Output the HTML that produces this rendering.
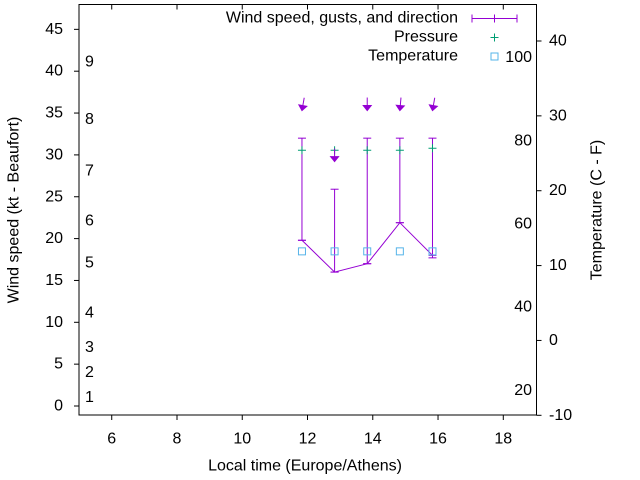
<!DOCTYPE html>
<html><head><meta charset="utf-8"><style>
body{margin:0;background:#fff}
svg{display:block;font-family:"Liberation Sans",Arial,sans-serif;font-size:16px}
</style></head><body>
<svg id="chart" width="640" height="480" viewBox="0 0 640 480"></svg>
<script>
const times=[11.83,12.83,13.83,14.83,15.83];
const speeds=[19.8,16.0,17.0,21.9,18.0];
const gustLows=[19.8,16.0,17.0,21.9,17.7];
const gusts=[32.0,25.9,32.0,32.0,32.0];
const pressures=[30.55,30.55,30.55,30.55,30.8];
const temps=[11.9,11.9,11.9,11.9,11.9];
const arrowY=[35.3,29.2,35.3,35.3,35.3];
const arrowDeg=[10,0,0,5,10];
const xTicks=[6,8,10,12,14,16,18];
const yTicks=[0,5,10,15,20,25,30,35,40,45];
const cTicks=[-10,0,10,20,30,40];
const fTicks=[20,40,60,80,100];
const bftLabels=[1,2,3,4,5,6,7,8,9];
const bftKt=[1,4,7,11.1,17.1,22.1,28.1,34.2,41.1];

const L=79,R=536.5,T=4.5,B=415;
const X=t=>79.1+(t-5)*32.63;
const Y=v=>406-v*8.37;
const YC=c=>415.3-(c+10)*7.486;
const YF=f=>YC((f-32)*5/9);
const svg=document.getElementById('chart');
const NS='http://www.w3.org/2000/svg';
function mk(tag,attrs,parent){const e=document.createElementNS(NS,tag);for(const k in attrs)e.setAttribute(k,attrs[k]);(parent||svg).appendChild(e);return e;}
function txt(s,x,y,anchor,parent){const e=mk('text',{x:x,y:y,'text-anchor':anchor||'start','dominant-baseline':'central',fill:'#000'},parent);e.textContent=s;return e;}

const axes=mk('g',{});


const frame=mk('rect',{x:L,y:T,width:R-L,height:B-T,fill:'none',stroke:'#000','stroke-width':1},axes);


xTicks.forEach(t=>{
  const x=X(t);
  mk('line',{x1:x,y1:B,x2:x,y2:B+5,stroke:'#000'},axes);
  mk('line',{x1:x,y1:T,x2:x,y2:T+5,stroke:'#000'},axes);
  const l=txt(String(t),x,439,'middle',axes);
  
  
});
yTicks.forEach(v=>{
  const y=Y(v);
  mk('line',{x1:L-5,y1:y,x2:L,y2:y,stroke:'#000'},axes);
  const l=txt(String(v),63,y,'end',axes);
  
  
});
cTicks.forEach(v=>{
  const y=YC(v);
  mk('line',{x1:R,y1:y,x2:R+5,y2:y,stroke:'#000'},axes);
  const l=txt(String(v),549,y,'start',axes);
  
  
});
fTicks.forEach(v=>{
  const l=txt(String(v),532,YF(v),'end',axes);
  
  
});
bftLabels.forEach((b,i)=>{
  const l=txt(String(b),85,Y(bftKt[i]),'start',axes);
  
  
});
let t1=txt('Local time (Europe/Athens)',305,466,'middle');


let t2=txt('Wind speed (kt - Beaufort)',0,0,'middle');
t2.setAttribute('transform','translate(14,210) rotate(-90)');


let t3=txt('Temperature (C - F)',0,0,'middle');
t3.setAttribute('transform','translate(597,210) rotate(-90)');



const P='#9400d3',G='#009e73',Bl='#56b4e9';
const pts=times.map((t,i)=>X(t)+','+Y(speeds[i])).join(' ');
const line=mk('polyline',{points:pts,fill:'none',stroke:P,'stroke-width':1});


times.forEach((t,i)=>{
  const x=X(t);
  const g=mk('g',{});
  
  
  mk('line',{x1:x,y1:Y(gustLows[i]),x2:x,y2:Y(gusts[i]),stroke:P},g);
  mk('line',{x1:x-4,y1:Y(gusts[i]),x2:x+4,y2:Y(gusts[i]),stroke:P},g);
  mk('line',{x1:x-4,y1:Y(gustLows[i]),x2:x+4,y2:Y(gustLows[i]),stroke:P},g);
  mk('line',{x1:x-4,y1:Y(speeds[i]),x2:x+4,y2:Y(speeds[i]),stroke:P},g);
  const p=mk('path',{d:`M${x-4},${Y(pressures[i])}h8M${x},${Y(pressures[i])-4}v8`,stroke:G,fill:'none'});
  
  
  const yt=YC(temps[i]);
  const s=mk('rect',{x:x-3.5,y:yt-3.5,width:7,height:7,fill:'none',stroke:Bl});
  
  
  const ya=Y(arrowY[i]);
  const a=mk('g',{transform:`translate(${x},${ya}) rotate(${arrowDeg[i]})`});
  
  
  mk('line',{x1:0,y1:-13,x2:0,y2:-3,stroke:P},a);
  mk('path',{d:'M-4,-5 L4,-5 L0,0 Z',fill:P,stroke:P},a);
});
const lg=mk('g',{});


txt('Wind speed, gusts, and direction',458,18,'end',lg);
txt('Pressure',458,37,'end',lg);
txt('Temperature',458,56,'end',lg);
mk('path',{d:'M472,18.5h45M472,14.5v8M517,14.5v8M494.5,14.5v8',stroke:P,fill:'none'},lg);
mk('path',{d:'M490.5,37.5h8M494.5,33.5v8',stroke:G,fill:'none'},lg);
mk('rect',{x:491,y:53,width:7,height:7,fill:'none',stroke:Bl},lg);
</script>
</body></html>
